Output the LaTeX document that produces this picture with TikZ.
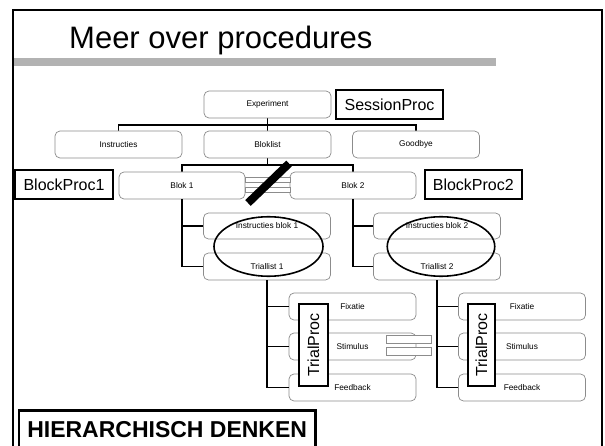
\documentclass[tikz,border=0pt]{standalone}
\usepackage{fontspec}
\setmainfont{Liberation Sans}
\usetikzlibrary{shapes.geometric}
\begin{document}
\begin{tikzpicture}[x=1pt,y=-1pt,
  item/.style={draw=black!45, line width=0.7pt, rounded corners=5pt, fill=white,
    minimum width=127pt, minimum height=27pt, inner sep=0pt,
    font=\fontsize{8.3}{9}\selectfont},
  proc/.style={draw=black, line width=2pt, fill=white, inner sep=0pt,
    font=\fontsize{16}{18}\selectfont},
  link/.style={line width=1.8pt, black},
  group/.style={draw=black, line width=1.6pt, ellipse, minimum width=109pt,
    minimum height=59.5pt, inner sep=0pt},
  strip/.style={draw=black!45, line width=0.7pt, fill=white}]

\useasboundingbox (0,0) rectangle (605,446);
\clip (0,0) rectangle (605,446);

% slide frame and title bar
\draw[line width=2pt] (13,10) rectangle (601.5,470);
\fill[gray!60] (14,58.5) rectangle (496,66);
\node[anchor=base west, inner sep=0pt, font=\fontsize{31}{34}\selectfont] (title) at (69,48.3) {Meer over procedures};

% connectors (drawn first, boxes cover their ends)
\coordinate (j1) at (267.5,125);
\coordinate (j2) at (267.5,165);
\draw[link] (267.5,118) -- (267.5,131);
\draw[link] (118.5,131) |- (j1) -| (416,131);
\draw[link] (267.5,158) -- (j2);
\draw[link] (182,172) |- (j2) -| (353,172);

% hierarchy boxes
\node[item] (exp) at (267.5,104.5) {Experiment};
\node[item] (ins) at (118.5,144.5) {Instructies};
\node[item] (bl)  at (267.5,144.5) {Bloklist};
\node[item] (bye) at (416,144.5) {Goodbye};
\node[item, minimum width=126pt] (b1) at (182,185.5) {Blok 1};
\node[item, minimum width=126pt] (b2) at (353,185.5) {Blok 2};

\node[item, minimum height=26pt] (in1) at (267,226) {Instructies blok 1};
\node[item] (tr1) at (267,266.5) {Triallist 1};
\node[item, minimum height=26pt] (in2) at (437,226) {Instructies blok 2};
\node[item] (tr2) at (437,266.5) {Triallist 2};

\draw[link] (b1.south) |- (tr1.west);
\draw[link] (b1.south |- in1.west) -- (in1.west);
\draw[link] (b2.south) |- (tr2.west);
\draw[link] (b2.south |- in2.west) -- (in2.west);

\node[item] (fx1) at (352.5,306.5) {Fixatie};
\node[item] (st1) at (352.5,346.5) {Stimulus};
\node[item] (fb1) at (352.5,387.5) {Feedback};
\node[item] (fx2) at (522,306.5) {Fixatie};
\node[item] (st2) at (522,346.5) {Stimulus};
\node[item] (fb2) at (522,387.5) {Feedback};

\draw[link] (tr1.south) |- (fb1.west);
\draw[link] (tr1.south |- fx1.west) -- (fx1.west);
\draw[link] (tr1.south |- st1.west) -- (st1.west);
\draw[link] (tr2.south) |- (fb2.west);
\draw[link] (tr2.south |- fx2.west) -- (fx2.west);
\draw[link] (tr2.south |- st2.west) -- (st2.west);

% stacked strips
\draw[strip] (245,177) rectangle (290,182.3);
\draw[strip] (245,187.5) rectangle (290,192.7);
\draw[strip] (386.7,335.7) rectangle (431.7,343.3);
\draw[strip] (386.7,347.7) rectangle (431.7,355);

% procedure labels
\node[proc, minimum width=107pt, minimum height=29pt] (sess) at (389.5,104.5) {SessionProc};
\node[proc, minimum width=98pt, minimum height=28.5pt] (bp1) at (64,184.3) {BlockProc1};
\node[proc, minimum width=96.5pt, minimum height=28.5pt] (bp2) at (473.3,184.3) {BlockProc2};
\node[proc, rotate=90, minimum width=82pt, minimum height=28.5pt] (tp1) at (313.5,345) {TrialProc};
\node[proc, rotate=90, minimum width=82pt, minimum height=27.5pt] (tp2) at (481.5,345) {TrialProc};

% groupings
\node[group] (g1) at (268.5,246.5) {};
\node[group, minimum width=107.5pt] (g2) at (441,246.5) {};

% strike-through bar
\coordinate (s1) at (289,163.5);
\coordinate (s2) at (248,203);
\draw[line width=8pt] (s1) -- (s2);

% caption
\node[draw=black, line width=2.5pt, fill=white, anchor=north west, inner xsep=8.5pt,
  inner ysep=10.5pt, text height=16.5pt, text depth=20pt,
  font=\bfseries\fontsize{23}{26}\selectfont] (hier) at (17.5,409) {HIERARCHISCH DENKEN};
\end{tikzpicture}
\end{document}
